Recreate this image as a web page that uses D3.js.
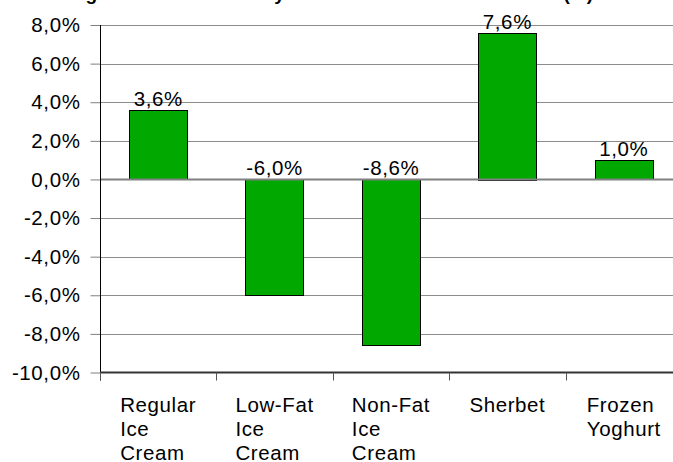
<!DOCTYPE html>
<html>
<head>
<meta charset="utf-8">
<script src="https://cdn.jsdelivr.net/npm/d3@7"></script>
<style>
  html, body { margin: 0; padding: 0; background: #fff; }
  svg { display: block; font-family: Arial, "Liberation Sans", sans-serif; }
</style>
</head>
<body>
<svg id="chart" width="673" height="462"></svg>
<script>
// Frozen dessert categories and their percentage change
const categories = [
  ["Regular", "Ice", "Cream"],
  ["Low-Fat", "Ice", "Cream"],
  ["Non-Fat", "Ice", "Cream"],
  ["Sherbet"],
  ["Frozen", "Yoghurt"]
];
const changes = [3.6, -6.0, -8.6, 7.6, 1.0];
const yTicks = [8, 6, 4, 2, 0, -2, -4, -6, -8, -10];
const title = "Change in Sales Volume by Frozen Dessert Market Sector (%)";

const FONT = 20.5;
const SPACING = 0.6;

const svg = d3.select("#chart");
const fmt = v => v.toFixed(1).replace(".", ",") + "%";

const x = d3.scaleBand()
  .domain(d3.range(categories.length))
  .range([100, 682])
  .paddingInner(0.5)
  .paddingOuter(0.25);
const y = d3.scaleLinear().domain([-10, 8]).range([372.5, 25]);

// title along the top edge of the page
svg.append("text")
  .attr("x", 38).attr("y", 0)
  .attr("font-size", 19).attr("font-weight", "bold")
  .attr("fill", "#000")
  .text(title);

// horizontal gridlines
svg.append("g").selectAll("line")
  .data(yTicks.filter(t => t !== 0 && t !== -10))
  .join("line")
  .attr("x1", 100).attr("x2", 673)
  .attr("y1", d => Math.round(y(d)) + 0.5).attr("y2", d => Math.round(y(d)) + 0.5)
  .attr("stroke", "#8c8c8c").attr("stroke-width", 1);

// y axis with ticks and labels
const yAxis = d3.axisLeft(y)
  .tickValues(yTicks)
  .tickSize(10)
  .tickPadding(10)
  .tickFormat(fmt);
const yg = svg.append("g").attr("transform", "translate(100.5,0)").call(yAxis);
yg.select(".domain").remove();
yg.selectAll(".tick line").attr("stroke", "#808080");
yg.selectAll(".tick text")
  .attr("font-size", FONT).attr("fill", "#000")
  .attr("letter-spacing", SPACING)
  .attr("font-family", "Arial, 'Liberation Sans', sans-serif");

// bars
svg.append("g").selectAll("rect")
  .data(changes)
  .join("rect")
  .attr("x", (d, i) => Math.round(x(i)) + 0.5)
  .attr("width", Math.round(x.bandwidth()))
  .attr("y", d => Math.round(y(Math.max(d, 0))) + 0.5)
  .attr("height", d => Math.round(Math.abs(y(d) - y(0))))
  .attr("fill", "#00a800")
  .attr("stroke", "#000").attr("stroke-width", 1);

// zero line
svg.append("line")
  .attr("x1", 100).attr("x2", 673)
  .attr("y1", y(0)).attr("y2", y(0))
  .attr("stroke", "#808080").attr("stroke-width", 2);

// y axis line
svg.append("line")
  .attr("x1", 100.5).attr("x2", 100.5)
  .attr("y1", y(8)).attr("y2", y(-10) + 8)
  .attr("stroke", "#000").attr("stroke-width", 1);

// category axis at the bottom
svg.append("line")
  .attr("x1", 100).attr("x2", 673)
  .attr("y1", y(-10)).attr("y2", y(-10))
  .attr("stroke", "#333").attr("stroke-width", 2);
const step = x.step();
svg.append("g").selectAll("line")
  .data(d3.range(categories.length))
  .join("line")
  .attr("x1", i => Math.round(x(i) - step * 0.25) + 0.5)
  .attr("x2", i => Math.round(x(i) - step * 0.25) + 0.5)
  .attr("y1", y(-10)).attr("y2", y(-10) + 8)
  .attr("stroke", "#555").attr("stroke-width", 1);

// value labels above each bar (or above the zero line for negatives)
svg.append("g").selectAll("text")
  .data(changes)
  .join("text")
  .attr("x", (d, i) => x(i) + x.bandwidth() / 2)
  .attr("y", d => y(Math.max(d, 0)) - 4)
  .attr("text-anchor", "middle")
  .attr("font-size", FONT).attr("letter-spacing", SPACING)
  .attr("fill", "#000")
  .text(fmt);

// wrapped category labels: lines left-aligned, block centred on the bar
const labelG = svg.append("g");
categories.forEach((lines, i) => {
  const tmp = labelG.append("text").attr("font-size", FONT).attr("letter-spacing", SPACING);
  let maxW = 0;
  lines.forEach(l => {
    tmp.text(l);
    maxW = Math.max(maxW, tmp.node().getComputedTextLength());
  });
  tmp.remove();
  const cx = x(i) + x.bandwidth() / 2;
  const t = labelG.append("text")
    .attr("font-size", FONT).attr("letter-spacing", SPACING)
    .attr("fill", "#000");
  lines.forEach((l, k) => {
    t.append("tspan")
      .attr("x", cx - maxW / 2)
      .attr("y", 412 + k * 24)
      .text(l);
  });
});
</script>
</body>
</html>
